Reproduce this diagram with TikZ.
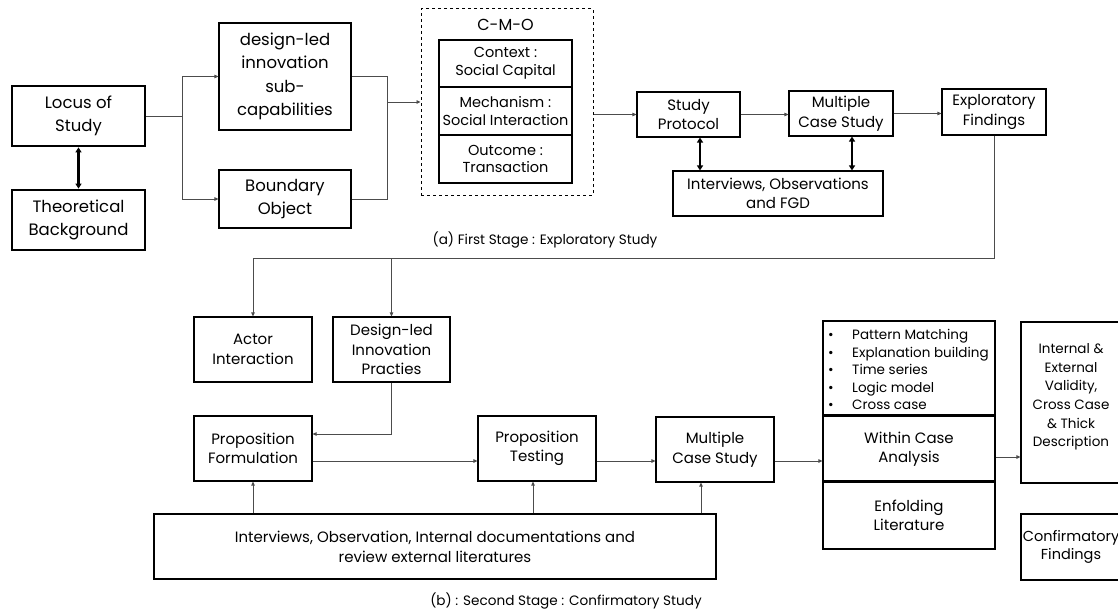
\documentclass[tikz,border=0pt]{standalone}
\usepackage{fontspec}
\setmainfont{Poppins}
\usetikzlibrary{arrows.meta}
\begin{document}
\begin{tikzpicture}[x=1pt,y=-1pt,
  box/.style={draw=black,line width=1.1pt,inner sep=0pt,align=center,font=\fontsize{15}{17.5}\selectfont},
  cmobox/.style={box,minimum width=133pt,font=\fontsize{14.5}{17.5}\selectfont},
  bigbox/.style={box,font=\fontsize{16.5}{23.5}\selectfont},
  medbox/.style={box,font=\fontsize{15}{19.5}\selectfont},
  heavy/.style={line width=2.8pt},
  conn/.style={draw=black!70,line width=0.8pt},
  arr/.style={conn,-{Triangle[length=4pt,width=3.5pt]}},
  dbl/.style={draw=black,line width=2.4pt,{Triangle[length=5pt,width=6pt]}-{Triangle[length=5pt,width=6pt]}},
  captext/.style={font=\fontsize{13.6}{15}\selectfont}
]
\useasboundingbox (0,0) rectangle (1118,610);
\fill[white] (0,0) rectangle (1118,610);

% ---- first stage ----
\node[bigbox,heavy,minimum width=133pt,minimum height=60pt] (locus) at (78.5,116) {Locus of\\Study};
\node[bigbox,heavy,minimum width=133pt,minimum height=60pt] (theo) at (78.5,220) {Theoretical\\Background};
\node[bigbox,minimum width=132pt,minimum height=107pt] (dli) at (285,76.5) {design-led\\innovation\\sub-\\capabilities};
\node[bigbox,minimum width=132pt,minimum height=58pt] (bo) at (285,199) {Boundary\\Object};

\node[draw=black,dashed,line width=1pt,minimum width=172pt,minimum height=186pt,inner sep=0pt] (cmo) at (507,102) {};
\node[font=\fontsize{16}{18}\selectfont] (cmot) at (505.5,25) {C-M-O};
\node[cmobox,minimum height=47pt] (ctx) at (505.5,63.5) {Context :\\Social Capital};
\node[cmobox,minimum height=48pt] (mech) at (505.5,111) {Mechanism :\\Social Interaction};
\node[cmobox,minimum height=48pt] (outc) at (505.5,159) {Outcome :\\Transaction};

\node[medbox,minimum width=103pt,minimum height=45pt] (sp) at (688.5,114.5) {Study\\Protocol};
\node[medbox,minimum width=104pt,minimum height=45pt] (mcs) at (841,113.5) {Multiple\\Case Study};
\node[medbox,minimum width=104pt,minimum height=46pt] (ef) at (994,112) {Exploratory\\Findings};
\node[box,minimum width=210pt,minimum height=45pt,font=\fontsize{15}{19}\selectfont] (intv) at (778,193.5) {Interviews, Observations\\and FGD};
\node[captext] (capa) at (545,240) {(a) First Stage : Exploratory Study};

\draw[dbl] (theo.north) -- (locus.south);
\coordinate (j1) at (182,116);
\draw[arr] (locus.east) -- (j1) |- (dli.west);
\draw[arr] (j1) |- (bo.west);
\coordinate (j2) at (387,102);
\draw[conn] (dli.east) -| (j2);
\draw[conn] (bo.east) -| (j2);
\draw[arr] (j2) -- (cmo.west);
\draw[arr] (sp.west -| cmo.east) -- (sp.west);
\draw[arr] (sp.east) -- (sp.east -| mcs.west);
\draw[arr] (mcs.east) -- (mcs.east -| ef.west);
\coordinate (d1) at ([xshift=11.5pt]sp.south);
\coordinate (d2) at ([xshift=11pt]mcs.south);
\draw[dbl] (d1) -- (d1 |- intv.north);
\draw[dbl] (d2) -- (d2 |- intv.north);

% ---- second stage ----
\node[medbox,minimum width=118pt,minimum height=65pt] (ai) at (253,349.5) {Actor\\Interaction};
\node[medbox,minimum width=117pt,minimum height=65pt] (dlp) at (391.5,349.5) {Design-led\\Innovation\\Practies};
\node[medbox,minimum width=118pt,minimum height=65pt] (pf) at (253,448.5) {Proposition\\Formulation};
\node[medbox,minimum width=118pt,minimum height=65pt] (pt) at (537,448.5) {Proposition\\Testing};
\node[medbox,minimum width=118pt,minimum height=65pt] (mcs2) at (715,449.5) {Multiple\\Case Study};
\node[box,minimum width=172pt,minimum height=95pt] (bul) at (909,368.5) {};
\node[anchor=west,align=left,inner sep=0pt,font=\fontsize{13.5}{17.5}\selectfont] (bult) at (828,369.5)
  {\makebox[24pt][l]{•}Pattern Matching\\ \makebox[24pt][l]{•}Explanation building\\ \makebox[24pt][l]{•}Time series\\ \makebox[24pt][l]{•}Logic model\\ \makebox[24pt][l]{•}Cross case};
\node[medbox,minimum width=172pt,minimum height=66pt] (wca) at (909,449) {Within Case\\Analysis};
\node[medbox,minimum width=172pt,minimum height=67pt] (enf) at (909,515.5) {Enfolding\\Literature};
\draw[line width=2.6pt] (wca.north west) -- (wca.north east);
\draw[line width=2.6pt] (enf.north west) -- (enf.north east);
\node[draw=black,line width=1.1pt,minimum width=100pt,minimum height=161pt,inner sep=0pt] (ie) at (1071,402.5) {};
\node[align=center,font=\fontsize{13.5}{18.6}\selectfont,inner sep=0pt] (iet) at (1071,397) {Internal \&\\External\\Validity,\\Cross Case\\\& Thick\\Description};
\node[box,minimum width=100pt,minimum height=66pt,font=\fontsize{14.5}{18}\selectfont] (cf) at (1071,547) {Confirmatory\\Findings};
\node[box,minimum width=562pt,minimum height=65pt,font=\fontsize{15}{20}\selectfont] (bot) at (435,546.5) {Interviews, Observation, Internal documentations and\\review external literatures};
\node[captext] (capb) at (566,601) {(b) : Second Stage : Confirmatory Study};

\coordinate (t) at (0,258);
\draw[arr] (ef.south) -- (ef.south |- t) -| (ai.north);
\draw[arr] (dlp.north |- t) -- (dlp.north);
\coordinate (q) at (0,434);
\draw[arr] (dlp.south) |- (pf.east |- q);
\coordinate (r) at (0,461);
\draw[arr] (pf.east |- r) -- (pt.west |- r);
\draw[arr] (pt.east |- r) -- (mcs2.west |- r);
\draw[arr] (mcs2.east |- r) -- (wca.west |- r);
\coordinate (s) at (0,457);
\draw[arr] (wca.east |- s) -- (ie.west |- s);
\coordinate (u1) at ([xshift=-4pt]pt.south);
\coordinate (u2) at ([xshift=-14pt]mcs2.south);
\draw[arr] (bot.north -| pf.south) -- (pf.south);
\draw[arr] (bot.north -| u1) -- (u1);
\draw[arr] (bot.north -| u2) -- (u2);
\end{tikzpicture}
\end{document}
